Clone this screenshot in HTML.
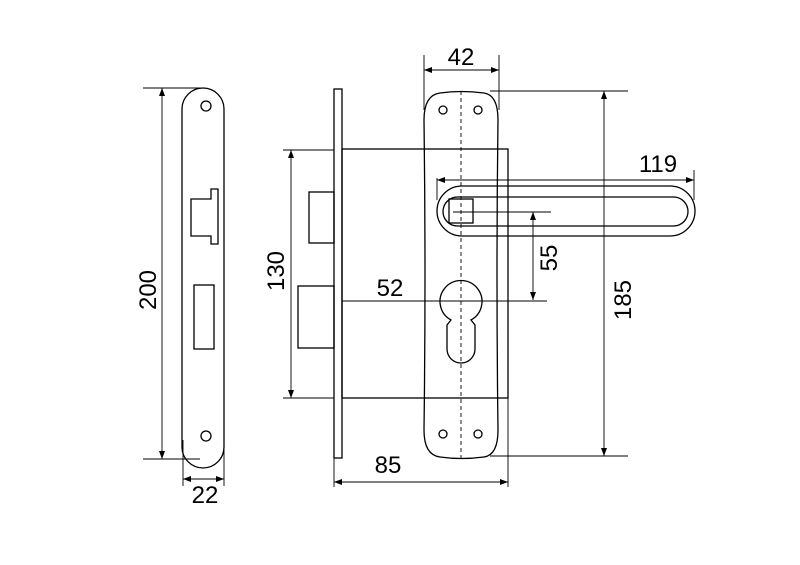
<!DOCTYPE html>
<html><head><style>body{margin:0;background:#fff}svg{display:block}</style></head>
<body>
<svg width="800" height="565" viewBox="0 0 800 565" xmlns="http://www.w3.org/2000/svg" font-family="Liberation Sans, sans-serif" fill="none" stroke="#000" stroke-width="1.3">
<defs><marker id="a" markerWidth="8" markerHeight="6" refX="8" refY="3" orient="auto-start-reverse" markerUnits="userSpaceOnUse"><path d="M0,0 L8,3 L0,6z" fill="#000" stroke="none"/></marker></defs>
<rect x="182" y="88" width="42" height="380" rx="21" ry="21"/>
<circle cx="206" cy="106" r="5"/><circle cx="206" cy="436" r="5"/>
<path d="M191,199 H211 V189 H218 V244 H211 V236 H191 Z"/>
<rect x="194" y="285" width="20" height="64"/>
<g stroke-width="0.9">
<line x1="143" y1="88" x2="205" y2="88"/><line x1="143" y1="459" x2="200" y2="459"/>
<line x1="162" y1="88" x2="162" y2="459" marker-start="url(#a)" marker-end="url(#a)"/>
<line x1="183" y1="440" x2="183" y2="486"/><line x1="224" y1="440" x2="224" y2="486"/>
<line x1="183" y1="479" x2="224" y2="479" marker-start="url(#a)" marker-end="url(#a)"/>
</g>
<rect x="334" y="89" width="8" height="369"/>
<rect x="342" y="149" width="166" height="249"/>
<rect x="309" y="192" width="25" height="51"/>
<rect x="298" y="286" width="36" height="62"/>
<g stroke-width="0.9">
<line x1="283" y1="150" x2="334" y2="150"/><line x1="283" y1="398" x2="334" y2="398"/>
<line x1="291" y1="150" x2="291" y2="398" marker-start="url(#a)" marker-end="url(#a)"/>
<line x1="334" y1="458" x2="334" y2="487"/><line x1="508" y1="398" x2="508" y2="487"/>
<line x1="334" y1="482" x2="508" y2="482" marker-start="url(#a)" marker-end="url(#a)"/>
<line x1="342" y1="301" x2="547" y2="301"/>
</g>
<path d="M424,120 Q424,95 440,93 Q461,90 484,93 Q498,95 498,120 Q496,275 498,430 Q498,455 484,457 Q461,460 440,457 Q424,455 424,430 Q426,275 424,120 Z"/>
<line x1="461" y1="91" x2="461" y2="458" stroke-dasharray="4,3" stroke-width="0.9"/>
<circle cx="443" cy="110" r="4"/><circle cx="478" cy="110" r="4"/>
<circle cx="443" cy="434" r="4"/><circle cx="478" cy="434" r="4"/>
<path d="M451,320 A21,21 0 1 1 471,320 L475,325 V349 A14,14 0 0 1 447,349 V325 Z"/>
<rect x="437" y="186" width="258" height="50" rx="25"/>
<rect x="443" y="197" width="245" height="29" rx="14.5"/>
<rect x="449" y="199" width="24" height="24"/>
<g stroke-width="0.9">
<line x1="453" y1="212" x2="551" y2="212"/>
<line x1="533" y1="212" x2="533" y2="300" marker-start="url(#a)" marker-end="url(#a)"/>
<line x1="437" y1="178" x2="437" y2="200"/><line x1="694" y1="170" x2="694" y2="200"/>
<line x1="437" y1="180" x2="694" y2="180" marker-start="url(#a)" marker-end="url(#a)"/>
<line x1="424" y1="55" x2="424" y2="110"/><line x1="499" y1="55" x2="499" y2="110"/>
<line x1="424" y1="70" x2="499" y2="70" marker-start="url(#a)" marker-end="url(#a)"/>
<line x1="490" y1="91" x2="628" y2="91"/><line x1="490" y1="456" x2="628" y2="456"/>
<line x1="604" y1="91" x2="604" y2="456" marker-start="url(#a)" marker-end="url(#a)"/>
</g>
<g fill="#000" stroke="none" font-size="24">
<text x="147" y="290" text-anchor="middle" transform="rotate(-90 147 290)" dy="9">200</text>
<text x="205" y="503" text-anchor="middle">22</text>
<text x="275" y="271" text-anchor="middle" transform="rotate(-90 275 271)" dy="9">130</text>
<text x="388" y="473" text-anchor="middle">85</text>
<text x="390" y="296" text-anchor="middle">52</text>
<text x="461" y="65" text-anchor="middle">42</text>
<text x="658" y="172" text-anchor="middle">119</text>
<text x="548" y="258" text-anchor="middle" transform="rotate(-90 548 258)" dy="9">55</text>
<text x="622" y="300" text-anchor="middle" transform="rotate(-90 622 300)" dy="9">185</text>
</g>
</svg>
</body></html>
